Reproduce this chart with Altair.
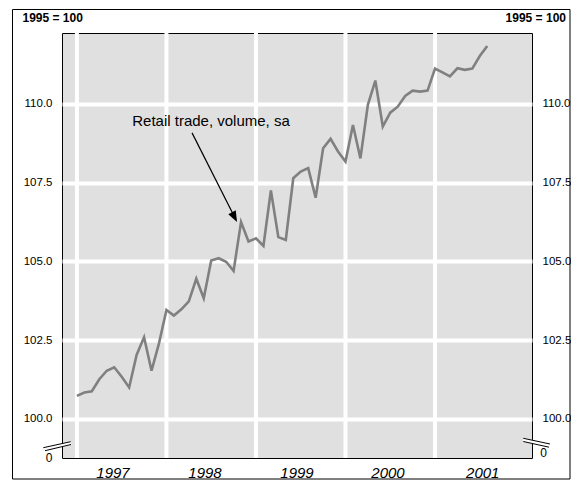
import altair as alt
import pandas as pd

# Monthly index (0 = Jan 1997 ... 55 = Aug 2001), 1995 = 100
months = list(range(56))
retail = [100.73, 100.84, 100.88, 101.26, 101.53, 101.64, 101.34, 101.00,
          102.03, 102.59, 101.53, 102.40, 103.46, 103.28, 103.48, 103.73,
          104.45, 103.83, 105.03, 105.10, 104.99, 104.70, 106.25, 105.63,
          105.73, 105.49, 107.25, 105.77, 105.68, 107.64, 107.85, 107.96,
          107.02, 108.59, 108.89, 108.49, 108.17, 109.33, 108.27, 109.97,
          110.74, 109.28, 109.72, 109.91, 110.25, 110.42, 110.39, 110.42,
          111.12, 111.00, 110.87, 111.13, 111.08, 111.12, 111.52, 111.84]

year_labels = ["1997", "1998", "1999", "2000", "2001"]
year_label_pos = [4.84, 17.17, 29.5, 41.7, 54.4]
year_bounds = [0, 12, 24, 36, 48]
y_ticks = [100.0, 102.5, 105.0, 107.5, 110.0]

series_name = "Retail trade, volume, sa"
index_note = "1995 = 100"

FONT = "Liberation Sans"
X_DOM = [-2, 61]
Y_DOM = [98.76, 112.25]

df = pd.DataFrame({"m": months, "v": retail})
xs = alt.Scale(domain=X_DOM, nice=False, zero=False)
ys = alt.Scale(domain=Y_DOM, nice=False, zero=False)

# vertical year-boundary gridlines
vgrid = alt.Chart(pd.DataFrame({"m": year_bounds})).mark_rule(
    color="white", strokeWidth=4).encode(x=alt.X("m:Q", scale=xs, axis=None))

line = alt.Chart(df).mark_line(color="#808080", strokeWidth=2.6).encode(
    x=alt.X("m:Q", scale=xs, axis=None),
    y=alt.Y("v:Q", scale=ys, axis=alt.Axis(values=y_ticks, format=".1f", grid=True,
                                            gridColor="white", gridWidth=4, gridOpacity=1,
                                            ticks=False, domain=False, labelPadding=10,
                                            labelFontSize=11.5, labelFont=FONT,
                                            labelColor="black", title=None, orient="left")),
)

right_axis = alt.Chart(df).mark_line(opacity=0).encode(
    x=alt.X("m:Q", scale=xs, axis=None),
    y=alt.Y("v:Q", scale=ys, axis=alt.Axis(values=y_ticks, format=".1f", grid=False,
                                            ticks=False, domain=False, labelPadding=10,
                                            labelFontSize=11.5, labelFont=FONT,
                                            labelColor="black", title=None, orient="right")),
)

# annotation
ann_df = pd.DataFrame({"m": [17.97], "v": [109.46], "t": [series_name]})
ann_text = alt.Chart(ann_df).mark_text(font=FONT, fontSize=15, color="black").encode(
    x=alt.X("m:Q", scale=xs, axis=None), y=alt.Y("v:Q", scale=ys, axis=None), text="t:N")

arrow_df = pd.DataFrame({"m": [15.43], "v": [109.08], "m2": [21.3], "v2": [106.33]})
arrow_line = alt.Chart(arrow_df).mark_rule(color="black", strokeWidth=1.2).encode(
    x=alt.X("m:Q", scale=xs, axis=None), y=alt.Y("v:Q", scale=ys, axis=None),
    x2="m2:Q", y2="v2:Q")

head_df = pd.DataFrame({"m": [21.46], "v": [106.25]})
arrow_head = alt.Chart(head_df).mark_point(
    shape="M0,0 L-0.38,-1 L0.38,-1 Z", filled=True, size=484, angle=333, color="black",
    opacity=1, strokeWidth=0).encode(
    x=alt.X("m:Q", scale=xs, axis=None), y=alt.Y("v:Q", scale=ys, axis=None))

# year labels
yr_df = pd.DataFrame({"m": year_label_pos, "t": year_labels})
yr_text = alt.Chart(yr_df).mark_text(font=FONT, fontSize=15, fontStyle="italic",
                                      color="black").encode(
    x=alt.X("m:Q", scale=xs, axis=None), y=alt.value(440), text="t:N")

# outer frame
frame = alt.Chart(pd.DataFrame({"a": [0]})).mark_rect(
    fill="transparent", stroke="black", strokeWidth=1).encode(
    x=alt.value(-49.5), x2=alt.value(508), y=alt.value(-23.5), y2=alt.value(446))

note_df = pd.DataFrame({"t": [index_note]})
note_left = alt.Chart(note_df).mark_text(font=FONT, fontSize=12, fontWeight="bold",
                                          align="left", baseline="middle", color="black").encode(
    x=alt.value(-39.5), y=alt.value(-15), text="t:N")
note_right = alt.Chart(note_df).mark_text(font=FONT, fontSize=12, fontWeight="bold",
                                           align="right", baseline="middle", color="black").encode(
    x=alt.value(504), y=alt.value(-15), text="t:N")

# axis break marks
def seg(x1, y1, x2, y2, color="black", w=1.0):
    return alt.Chart(pd.DataFrame({"a": [0]})).mark_rule(color=color, strokeWidth=w).encode(
        x=alt.value(x1), y=alt.value(y1), x2=alt.value(x2), y2=alt.value(y2))

breaks = [
    seg(-18, 416.2, 9, 410, "white", 3.5),
    seg(-18.7, 414.7, 8.7, 408.7),
    seg(-17, 417.7, 9, 411.5),
    seg(461.3, 406.8, 488, 412.5, "white", 3.5),
    seg(461.3, 405.3, 488, 411),
    seg(461.3, 408.5, 487, 414.2),
]

zero_df = pd.DataFrame({"t": ["0"]})
zero_left = alt.Chart(zero_df).mark_text(font=FONT, fontSize=12, color="black").encode(
    x=alt.value(-13), y=alt.value(425), text="t:N")
zero_right = alt.Chart(zero_df).mark_text(font=FONT, fontSize=12, color="black").encode(
    x=alt.value(481.5), y=alt.value(420), text="t:N")

chart = alt.layer(
    vgrid, line, right_axis, arrow_line, arrow_head, ann_text, yr_text, frame,
    note_left, note_right, *breaks, zero_left, zero_right
).resolve_axis(y="independent").resolve_scale(y="shared").properties(
    width=470, height=425,
    autosize=alt.AutoSizeParams(type="none"),
    padding={"left": 54, "top": 25, "right": 39, "bottom": 22},
    background="white",
).configure_view(fill="#e0e0e0", stroke="black", strokeWidth=1)

chart.save("out.html", embed_options={"renderer": "svg", "actions": False})
